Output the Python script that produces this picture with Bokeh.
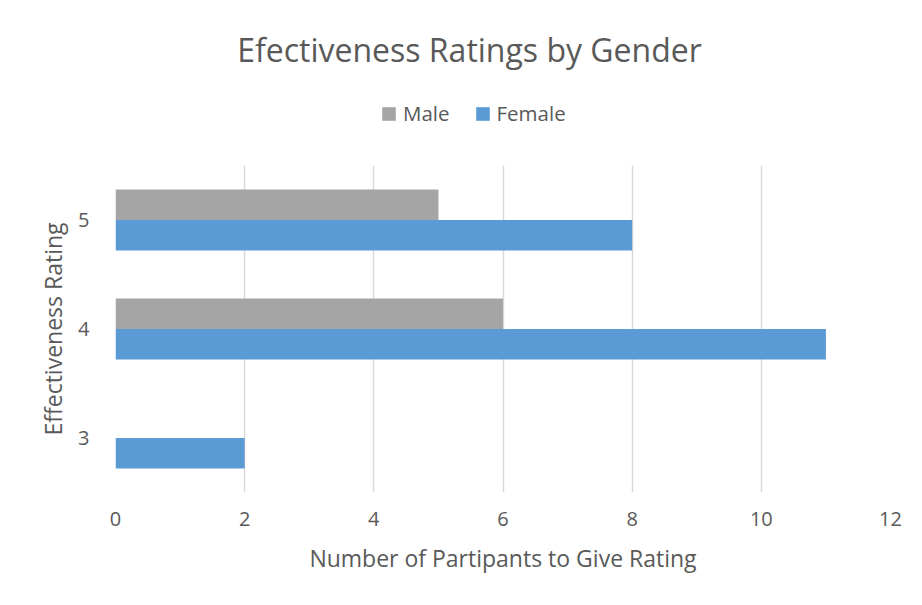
from bokeh.plotting import figure
from bokeh.layouts import column
from bokeh.models import ColumnDataSource, Range1d, FactorRange, Legend, LegendItem, FixedTicker, Label
from bokeh.transform import dodge
from bokeh.embed import file_html
from bokeh.resources import INLINE

ratings = ["3", "4", "5"]
male = [0, 6, 5]
female = [2, 11, 8]
x_ticks = [0, 2, 4, 6, 8, 10, 12]
series_names = ["Male", "Female"]
series_colors = ["#a5a5a5", "#5b9bd5"]

title_text = "Efectiveness Ratings by Gender"
x_label = "Number of Partipants to Give Rating"
y_label = "Effectiveness Rating"

FONT = "Open Sans"
TXT = "#595959"
W = 906

src = ColumnDataSource(dict(rating=ratings, male=male, female=female))

# ---- header: title + legend (frame aligned with the chart's frame by the column) ----
head = figure(width=W, height=165, output_backend="svg", toolbar_location=None,
              x_range=Range1d(115, 890), y_range=FactorRange(factors=ratings),
              x_axis_type=None, y_axis_type=None,
              min_border_left=115, min_border_right=16, min_border_top=0, min_border_bottom=0)
head.outline_line_color = None
head.xgrid.visible = False
head.ygrid.visible = False

head.add_layout(Label(x=469, y=116, x_units="data", y_units="screen", text=title_text,
                      text_font=FONT, text_font_size="32px",
                      text_color=TXT, text_align="center", text_baseline="alphabetic"))

# legend proxies: same data, zero height and outside this header's x range
pm = head.hbar(y="rating", right="male", left=0, height=0, source=src,
               fill_color=series_colors[0], line_color=None)
pf = head.hbar(y="rating", right="female", left=0, height=0, source=src,
               fill_color=series_colors[1], line_color=None)
legend = Legend(items=[LegendItem(label=series_names[0], renderers=[pm]),
                       LegendItem(label=series_names[1], renderers=[pf])],
                orientation="horizontal", location=(265, 38),
                label_text_font=FONT, label_text_font_size="20.5px", label_text_color=TXT,
                glyph_width=17, glyph_height=17, label_standoff=6, spacing=24,
                padding=0, margin=0, border_line_color=None, background_fill_alpha=0,
                label_height=20)
head.add_layout(legend, "center")

# ---- main chart ----
p = figure(width=W, height=424, output_backend="svg", toolbar_location=None,
           x_range=Range1d(0, 12), y_range=FactorRange(factors=ratings, range_padding=0),
           min_border_left=115, min_border_right=16, min_border_top=0, min_border_bottom=97)
p.outline_line_color = None

p.hbar(y=dodge("rating", 0.14, range=p.y_range), right="male", left=0, height=0.28,
       source=src, fill_color=series_colors[0], line_color=None)
p.hbar(y=dodge("rating", -0.14, range=p.y_range), right="female", left=0, height=0.28,
       source=src, fill_color=series_colors[1], line_color=None)

p.xaxis.ticker = FixedTicker(ticks=x_ticks)
for ax in (p.xaxis[0], p.yaxis[0]):
    ax.axis_line_color = None
    ax.major_tick_line_color = None
    ax.minor_tick_line_color = None
    ax.major_label_text_font = FONT
    ax.major_label_text_color = TXT
    ax.major_label_text_font_size = "20px"
    ax.axis_label_text_font = FONT
    ax.axis_label_text_color = TXT
    ax.axis_label_text_font_size = "23px"
    ax.axis_label_text_font_style = "normal"

p.xaxis.axis_label = x_label
p.yaxis.axis_label = y_label
p.xaxis.major_label_standoff = 13
p.xaxis.axis_label_standoff = 13
p.yaxis.major_label_standoff = 20
p.yaxis.axis_label_standoff = 6

p.xgrid.grid_line_color = "#d9d9d9"
p.xgrid.grid_line_width = 1.5
p.ygrid.grid_line_color = None

layout = column(head, p, spacing=0)
open("out.html", "w").write(file_html(layout, INLINE))
